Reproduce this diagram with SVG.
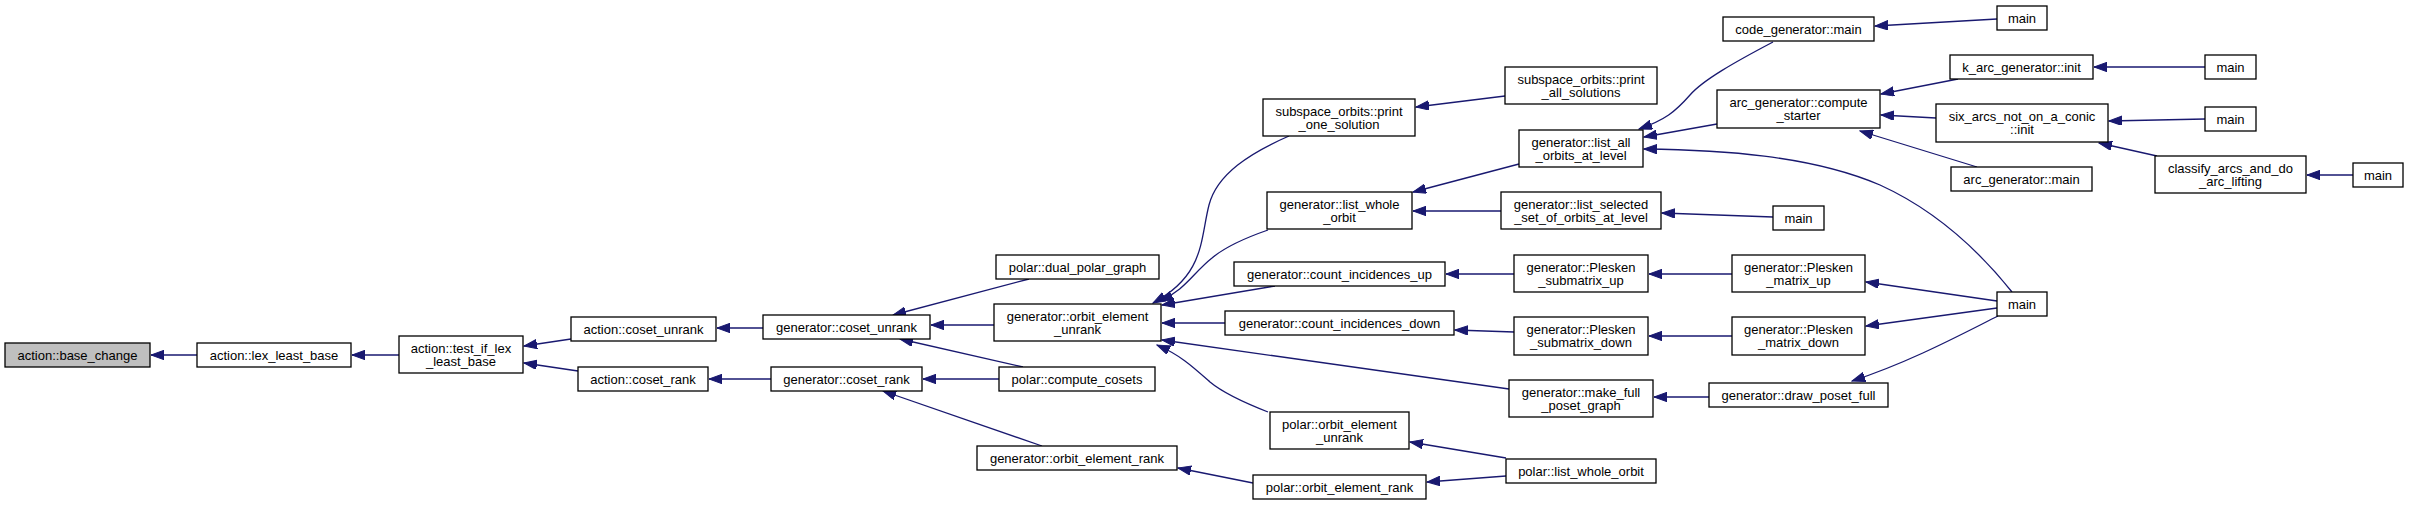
<svg xmlns="http://www.w3.org/2000/svg" width="2409" height="505" viewBox="0 0 2409 505">
<style>
.n rect{fill:#fff;stroke:#000;stroke-width:1.3}
.n text{font-family:"Liberation Sans",Arial,sans-serif;font-size:13px;text-anchor:middle;fill:#000}
#edges path{fill:none;stroke:#191970;stroke-width:1.3;marker-end:url(#ah)}
</style>
<defs>
<marker id="ah" markerUnits="userSpaceOnUse" markerWidth="14" markerHeight="10" refX="13" refY="4.7" orient="auto">
<path d="M0,0 L13,4.7 L0,9.4 z" fill="#191970" stroke="#191970" stroke-width="1"/>
</marker>
</defs>
<rect width="2409" height="505" fill="#fff"/>
<g id="edges">
<path d="M197,355 L151,355"/>
<path d="M399,355 L352,355"/>
<path d="M571,339 L524,346"/>
<path d="M578,371 L524,363"/>
<path d="M763,328 L717,328"/>
<path d="M771,379 L709,379"/>
<path d="M1029,279 L893,315"/>
<path d="M994,325 L931,325"/>
<path d="M1023,367 L900,339"/>
<path d="M999,379 L923,379"/>
<path d="M1042,446 L883,391"/>
<path d="M1289,136 C1250,153 1217,174 1209,205 C1200,240 1205,275 1153,303"/>
<path d="M1268,230 C1245,238 1225,247 1212,258 C1193,273 1185,290 1160,301"/>
<path d="M1275,286 L1162,305"/>
<path d="M1225,323 L1162,323"/>
<path d="M1509,389 L1162,340"/>
<path d="M1268,412 C1240,401 1222,392 1210,382 C1192,366 1180,355 1157,345"/>
<path d="M1253,483 L1178,468"/>
<path d="M1506,458 L1410,442"/>
<path d="M1506,476 L1427,482"/>
<path d="M1505,96 L1416,107"/>
<path d="M1519,164 L1413,192"/>
<path d="M1501,211 L1413,211"/>
<path d="M1514,274 L1446,274"/>
<path d="M1514,332 L1455,330"/>
<path d="M1773,217 L1662,213"/>
<path d="M1732,274 L1649,274"/>
<path d="M1732,336 L1649,336"/>
<path d="M1709,397 L1654,397"/>
<path d="M1997,301 L1866,282"/>
<path d="M1997,308 L1866,326"/>
<path d="M1998,316 C1960,335 1910,362 1852,381"/>
<path d="M2012,292 C1980,252 1935,210 1880,185 C1810,155 1720,150 1644,149"/>
<path d="M1773,42 C1735,62 1703,80 1690,95 C1675,112 1665,120 1639,129"/>
<path d="M1717,124 L1644,137"/>
<path d="M1997,19 L1875,26"/>
<path d="M1958,79 L1881,94"/>
<path d="M1936,118 L1881,115"/>
<path d="M1977,167 L1860,131"/>
<path d="M2205,67 L2094,67"/>
<path d="M2205,119 L2109,121"/>
<path d="M2157,156 L2099,143"/>
<path d="M2353,175 L2307,175"/>
</g>
<g id="base_change" class="n"><rect x="5" y="343" width="145" height="24" style="fill:#bfbfbf"/><text x="77.5" y="360">action::base_change</text></g>
<g id="lex_least_base" class="n"><rect x="197" y="343" width="154" height="24"/><text x="274" y="360">action::lex_least_base</text></g>
<g id="test_if_lex" class="n"><rect x="399" y="336" width="124" height="37"/><text x="461" y="352.5">action::test_if_lex</text><text x="461" y="365.5">_least_base</text></g>
<g id="a_coset_unrank" class="n"><rect x="571" y="317" width="145" height="24"/><text x="643.5" y="334">action::coset_unrank</text></g>
<g id="a_coset_rank" class="n"><rect x="578" y="367" width="130" height="24"/><text x="643" y="384">action::coset_rank</text></g>
<g id="g_coset_unrank" class="n"><rect x="763" y="315" width="167" height="24"/><text x="846.5" y="332">generator::coset_unrank</text></g>
<g id="g_coset_rank" class="n"><rect x="771" y="367" width="151" height="24"/><text x="846.5" y="384">generator::coset_rank</text></g>
<g id="dual_polar_graph" class="n"><rect x="996" y="255" width="163" height="24"/><text x="1077.5" y="272">polar::dual_polar_graph</text></g>
<g id="g_orbit_element_unrank" class="n"><rect x="994" y="304" width="167" height="37"/><text x="1077.5" y="320.5">generator::orbit_element</text><text x="1077.5" y="333.5">_unrank</text></g>
<g id="compute_cosets" class="n"><rect x="999" y="367" width="156" height="24"/><text x="1077" y="384">polar::compute_cosets</text></g>
<g id="g_orbit_element_rank" class="n"><rect x="977" y="446" width="200" height="24"/><text x="1077" y="463">generator::orbit_element_rank</text></g>
<g id="print_one_solution" class="n"><rect x="1263" y="99" width="152" height="37"/><text x="1339" y="115.5">subspace_orbits::print</text><text x="1339" y="128.5">_one_solution</text></g>
<g id="list_whole_orbit" class="n"><rect x="1267" y="192" width="145" height="37"/><text x="1339.5" y="208.5">generator::list_whole</text><text x="1339.5" y="221.5">_orbit</text></g>
<g id="count_inc_up" class="n"><rect x="1234" y="262" width="211" height="24"/><text x="1339.5" y="279">generator::count_incidences_up</text></g>
<g id="count_inc_down" class="n"><rect x="1225" y="311" width="229" height="24"/><text x="1339.5" y="328">generator::count_incidences_down</text></g>
<g id="p_orbit_element_unrank" class="n"><rect x="1270" y="412" width="139" height="37"/><text x="1339.5" y="428.5">polar::orbit_element</text><text x="1339.5" y="441.5">_unrank</text></g>
<g id="p_orbit_element_rank" class="n"><rect x="1253" y="475" width="173" height="24"/><text x="1339.5" y="492">polar::orbit_element_rank</text></g>
<g id="print_all_solutions" class="n"><rect x="1505" y="67" width="152" height="37"/><text x="1581" y="83.5">subspace_orbits::print</text><text x="1581" y="96.5">_all_solutions</text></g>
<g id="list_all_orbits" class="n"><rect x="1519" y="130" width="124" height="37"/><text x="1581" y="146.5">generator::list_all</text><text x="1581" y="159.5">_orbits_at_level</text></g>
<g id="list_selected" class="n"><rect x="1501" y="192" width="160" height="37"/><text x="1581" y="208.5">generator::list_selected</text><text x="1581" y="221.5">_set_of_orbits_at_level</text></g>
<g id="plesken_sub_up" class="n"><rect x="1514" y="255" width="134" height="37"/><text x="1581" y="271.5">generator::Plesken</text><text x="1581" y="284.5">_submatrix_up</text></g>
<g id="plesken_sub_down" class="n"><rect x="1514" y="317" width="134" height="38"/><text x="1581" y="333.5">generator::Plesken</text><text x="1581" y="346.5">_submatrix_down</text></g>
<g id="make_full" class="n"><rect x="1509" y="380" width="144" height="37"/><text x="1581" y="396.5">generator::make_full</text><text x="1581" y="409.5">_poset_graph</text></g>
<g id="p_list_whole" class="n"><rect x="1506" y="459" width="150" height="24"/><text x="1581" y="476">polar::list_whole_orbit</text></g>
<g id="code_gen_main" class="n"><rect x="1723" y="17" width="151" height="24"/><text x="1798.5" y="34">code_generator::main</text></g>
<g id="compute_starter" class="n"><rect x="1717" y="90" width="163" height="38"/><text x="1798.5" y="106.5">arc_generator::compute</text><text x="1798.5" y="119.5">_starter</text></g>
<g id="main_sel" class="n"><rect x="1773" y="206" width="51" height="24"/><text x="1798.5" y="223">main</text></g>
<g id="plesken_up" class="n"><rect x="1732" y="255" width="133" height="37"/><text x="1798.5" y="271.5">generator::Plesken</text><text x="1798.5" y="284.5">_matrix_up</text></g>
<g id="plesken_down" class="n"><rect x="1732" y="317" width="133" height="38"/><text x="1798.5" y="333.5">generator::Plesken</text><text x="1798.5" y="346.5">_matrix_down</text></g>
<g id="draw_poset" class="n"><rect x="1709" y="383" width="179" height="24"/><text x="1798.5" y="400">generator::draw_poset_full</text></g>
<g id="main_big" class="n"><rect x="1997" y="292" width="50" height="24"/><text x="2022" y="309">main</text></g>
<g id="main_cg" class="n"><rect x="1997" y="6" width="50" height="24"/><text x="2022" y="23">main</text></g>
<g id="k_arc_init" class="n"><rect x="1950" y="55" width="143" height="24"/><text x="2021.5" y="72">k_arc_generator::init</text></g>
<g id="six_arcs" class="n"><rect x="1936" y="104" width="172" height="38"/><text x="2022" y="120.5">six_arcs_not_on_a_conic</text><text x="2022" y="133.5">::init</text></g>
<g id="arc_gen_main" class="n"><rect x="1951" y="167" width="141" height="24"/><text x="2021.5" y="184">arc_generator::main</text></g>
<g id="classify" class="n"><rect x="2155" y="156" width="151" height="37"/><text x="2230.5" y="172.5">classify_arcs_and_do</text><text x="2230.5" y="185.5">_arc_lifting</text></g>
<g id="main_k" class="n"><rect x="2205" y="55" width="51" height="24"/><text x="2230.5" y="72">main</text></g>
<g id="main_six" class="n"><rect x="2205" y="107" width="51" height="24"/><text x="2230.5" y="124">main</text></g>
<g id="main_cl" class="n"><rect x="2353" y="163" width="50" height="24"/><text x="2378" y="180">main</text></g>
</svg>
